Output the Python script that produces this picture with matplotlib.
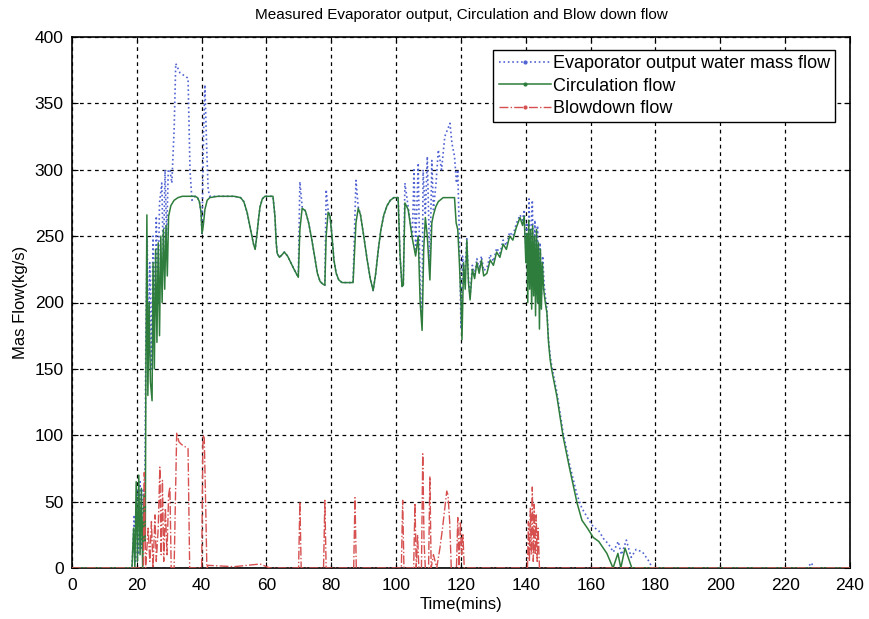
import matplotlib
matplotlib.use("Agg")
import matplotlib.pyplot as plt
from matplotlib.lines import Line2D

plt.rcParams['font.family'] = ['Liberation Sans', 'DejaVu Sans']

# ---------------- data ----------------
circ_t = [0, 18.5, 19.0, 19.4, 19.8, 20.2, 20.6, 21.0, 21.4, 21.8, 22.2, 22.6,
          22.8, 23.1, 23.4, 23.8, 24.2, 24.7, 25.0, 25.4, 25.8, 26.2, 26.6, 27.0,
          27.4, 27.8, 28.2, 28.6, 29.0, 29.4, 29.8, 30.5, 31.5, 32.7, 34, 36, 38,
          38.7, 39.3, 39.8, 40.1, 40.5, 41.0, 41.7, 42.5, 45, 50, 52, 53, 54, 55,
          56, 56.5, 57, 57.5, 58, 58.7, 59.5, 62, 62.6, 63, 63.3, 64, 64.8, 65.5,
          66.5, 67.5, 68.5, 69.8, 70.3, 71, 72, 73, 74, 75, 75.7, 76.5, 77.3, 78,
          78.4, 79, 79.6, 80.2, 80.8, 81.5, 82.3, 83.3, 86.7, 87.6, 88.3, 89, 90,
          91, 92, 92.9, 93.7, 94.5, 95.3, 96.2, 97.2, 98.2, 99.3, 100.6, 101.2,
          101.8, 102.2, 102.7, 103.7, 105, 106, 106.8, 107.4, 108, 108.5, 109,
          109.6, 110.4, 111, 111.5, 112.2, 113, 114, 114.5, 118, 118.5, 119, 119.5,
          120, 120.3, 120.8, 121.3, 121.8, 122.3, 122.8, 123.5, 124.2, 124.9,
          125.6, 126.3, 127, 128, 129, 130, 131, 132, 133, 134, 135, 136, 137,
          138.2, 139, 139.5, 140, 140.3, 140.6, 140.9, 141.2, 141.5, 141.8, 142.1,
          142.4, 142.7, 143.0, 143.3, 143.6, 143.9, 144.2, 144.5, 144.8, 145.1,
          145.5, 146, 146.5, 147, 147.5, 148, 149.6, 151.5, 153.5, 155.8, 157.3,
          159, 160.8, 162.5, 165, 166.9, 168.4, 169.3, 170.6, 172.7, 240]
circ_v = [0, 0, 30, 0, 65, 5, 70, 10, 60, 0, 55, 20,
          150, 266, 130, 200, 140, 126, 230, 150, 240, 170, 245, 175,
          250, 200, 255, 210, 258, 220, 265, 273, 277, 279, 280, 280, 280,
          279, 276, 268, 252, 258, 270, 277, 279, 280, 280, 279, 276, 268, 256,
          244, 240, 250, 262, 272, 278, 280, 280, 265, 245, 237, 234, 236, 238,
          235, 230, 225, 219, 255, 271, 269, 260, 247, 232, 222, 216, 214, 213,
          250, 268, 265, 250, 232, 222, 217, 215, 215, 260, 271, 266, 250,
          233, 218, 209, 222, 240, 255, 266, 273, 277, 279, 279, 235,
          212, 213, 275, 270, 248, 235, 250, 200, 179, 240, 264,
          250, 217, 260, 266, 272, 276, 278, 279, 279, 260, 255, 230,
          200, 172, 230, 210, 247, 215, 202, 225, 218, 230,
          222, 232, 220, 222, 232, 228, 238, 234, 244, 240, 250, 247, 256,
          264, 258, 265, 230, 252, 200, 262, 210, 255, 195, 258,
          205, 250, 190, 255, 200, 245, 180, 240, 195, 230,
          210, 200, 192, 170, 157, 149, 129, 99, 75, 49, 36,
          30, 23, 20, 11, 0, 11, 0, 15, 0, 0]

evap_t = [0, 18.5, 19.2, 19.6, 20.0, 20.5, 21, 21.5, 22, 22.4, 22.8, 23.2, 23.6,
          24, 24.5, 25, 25.5, 26, 26.5, 27, 27.7, 28.2, 28.7, 29.2, 29.7, 30.2,
          30.8, 31.5, 32, 33.3, 35.8, 36.4, 37, 38, 38.7, 39.3, 39.8, 40.1, 40.6,
          41, 41.5, 42, 42.5, 45, 50, 52, 53, 54, 55, 56, 56.5, 57, 57.5, 58, 58.7,
          59.5, 62, 62.6, 63, 63.3, 64, 64.8, 65.5, 66.5, 67.5, 68.5, 69.8, 70.3,
          71, 72, 73, 74, 75, 75.7, 76.5, 77.3, 78, 78.4, 79, 79.6, 80.2, 80.8,
          81.5, 82.3, 83.3, 86.7, 87.6, 88.3, 89, 90, 91, 92, 92.9, 93.7, 94.5,
          95.3, 96.2, 97.2, 98.2, 99.3, 100.6, 101.2, 101.8, 102.2, 102.7, 103.7,
          105, 105.5, 106, 106.8, 107.4, 108, 108.3, 109, 109.6, 110.4, 111, 111.5,
          112.3, 113, 114, 115, 116.6, 117.2, 118, 118.6, 119, 119.5, 120.0, 120.5,
          121, 121.8, 122.3, 122.8, 123.5, 124.2, 124.9, 125.6, 126.3, 127, 128,
          129, 130, 131, 132, 133, 134, 135, 136, 137, 138.2, 139, 139.5, 140,
          140.3, 140.6, 141, 141.4, 141.8, 142, 142.4, 142.8, 143.2, 143.6, 144,
          144.4, 144.8, 145.2, 145.6, 146, 146.5, 147, 147.5, 148, 149.6, 151.5,
          153.5, 155.8, 157.3, 159, 160.8, 162.5, 164, 165.5, 167, 168.5, 169.5,
          171, 172.5, 174, 176, 178, 179, 227, 228, 229, 240]
evap_v = [0, 0, 40, 5, 60, 10, 65, 15, 60, 30, 180, 250, 160,
          230, 150, 250, 190, 265, 200, 275, 290, 230, 300, 250, 300, 300,
          290, 330, 380, 373, 369, 300, 277, 280, 279, 276, 268, 252, 330,
          364, 320, 285, 280, 280, 280, 279, 276, 268, 256, 244, 240, 250, 262,
          272, 278, 280, 280, 265, 245, 237, 234, 236, 238, 235, 230, 225, 219,
          291, 272, 269, 260, 247, 232, 222, 216, 214, 213, 285, 270, 265, 250,
          232, 222, 217, 215, 215, 292, 272, 266, 250, 233, 218, 209, 222, 240,
          255, 266, 273, 277, 279, 279, 235, 212, 213, 290, 272,
          250, 300, 240, 305, 210, 185, 300, 266, 310, 225, 307, 270,
          290, 315, 300, 325, 335, 320, 310, 290, 300, 250, 180, 235,
          215, 248, 218, 205, 228, 221, 233, 225, 235, 224, 226,
          236, 231, 241, 237, 247, 243, 253, 250, 259, 266, 262, 270, 240,
          260, 215, 278, 225, 265, 277, 220, 262, 205, 258, 200,
          245, 205, 235, 215, 205, 195, 172, 160, 152, 132, 102,
          78, 55, 45, 38, 31, 28, 22, 18, 12, 20, 10,
          21, 8, 14, 12, 5, 0, 0, 4, 0, 0]

blow_t = [0, 22, 22.3, 22.7, 23.5, 24, 24.5, 25, 25.6, 26, 26.6, 27.1, 27.5, 27.9,
          28.3, 28.8, 29.3, 29.8, 30.2, 30.6, 31.5, 32.3, 33, 33.8, 35.8, 36.3, 40.0,
          40.4, 40.8, 41.3, 41.6, 42, 50, 58, 60, 61, 69.9, 70.3, 70.7, 77.6, 78,
          78.4, 86.9, 87.3, 87.7, 101.6, 102, 102.4, 105.4, 105.8, 106.2, 106.6,
          107, 107.8, 108.2, 108.6, 109, 110, 110.4, 110.8, 111.5, 112.5, 113.5,
          114.3, 115, 115.6, 116, 116.5, 117, 118.6, 119, 119.4, 119.8, 120.2,
          120.6, 121, 140.5, 140.8, 141.1, 141.4, 141.7, 142, 142.3, 142.6, 142.9,
          143.2, 143.5, 143.8, 144.2, 240]
blow_v = [0, 0, 72, 0, 30, 5, 35, 0, 40, 5, 30, 76, 10, 66,
          5, 45, 10, 55, 61, 0, 0, 102, 95, 93, 90, 0, 0,
          100, 98, 40, 0, 2, 1, 3, 1, 0, 0, 50, 0, 0, 51,
          0, 0, 53, 0, 0, 51, 0, 0, 49, 0, 25,
          0, 0, 86, 20, 0, 0, 69, 0, 10, 0, 15,
          30, 45, 58, 55, 35, 0, 0, 38, 0, 35, 10,
          25, 0, 0, 35, 5, 45, 10, 61, 5, 48, 10,
          40, 5, 30, 0, 0]

labels = ['Evaporator output water mass flow', 'Circulation flow', 'Blowdown flow']
x_ticks = list(range(0, 241, 20))
y_ticks = list(range(0, 401, 50))

# ---------------- plot ----------------
fig = plt.figure(figsize=(8.7, 6.19), dpi=100)
ax = fig.add_axes([72/870, 51/619, 778/870, 531/619])

c_blue = '#5163d2'
c_green = '#2e7d3c'
c_red = '#d65050'

ax.plot(evap_t, evap_v, color=c_blue, linestyle=':', linewidth=1.2, zorder=3)
ax.plot(circ_t, circ_v, color=c_green, linestyle='-', linewidth=1.1, zorder=4)
ax.plot(blow_t, blow_v, color=c_red, linestyle='-.', linewidth=1.0, zorder=5)

ax.set_xlim(0, 240)
ax.set_ylim(0, 400)
ax.set_xticks(x_ticks)
ax.set_yticks(y_ticks)
ax.tick_params(direction='in', top=True, right=True, labelsize=12.5, length=4)
ax.tick_params(axis='x', pad=7)
ax.tick_params(axis='y', pad=6)
ax.grid(True, color='k', linestyle=(0, (3, 3)), linewidth=0.9)
for s in ax.spines.values():
    s.set_linewidth(1.2)
    s.set_color('k')

ax.set_title('Measured Evaporator output, Circulation and Blow down flow', fontsize=11, pad=13)
ax.set_xlabel('Time(mins)', fontsize=12, labelpad=3)
ax.set_ylabel('Mas Flow(kg/s)', fontsize=12, labelpad=5)

handles = [
    Line2D([], [], color=c_blue, linestyle=':', marker='.', markersize=4, linewidth=1.2),
    Line2D([], [], color=c_green, linestyle='-', marker='.', markersize=4, linewidth=1.1),
    Line2D([], [], color=c_red, linestyle='-.', marker='.', markersize=4, linewidth=1.0),
]
leg = ax.legend(handles, labels, loc='upper right', bbox_to_anchor=(0.981, 0.976),
                fontsize=13, frameon=True, fancybox=False, edgecolor='k',
                framealpha=1, borderpad=0.3, labelspacing=0.3, handlelength=2.9,
                handletextpad=0.1, borderaxespad=0)
leg.get_frame().set_linewidth(1.0)
leg.set_zorder(10)

fig.savefig('out.png', dpi=100)
